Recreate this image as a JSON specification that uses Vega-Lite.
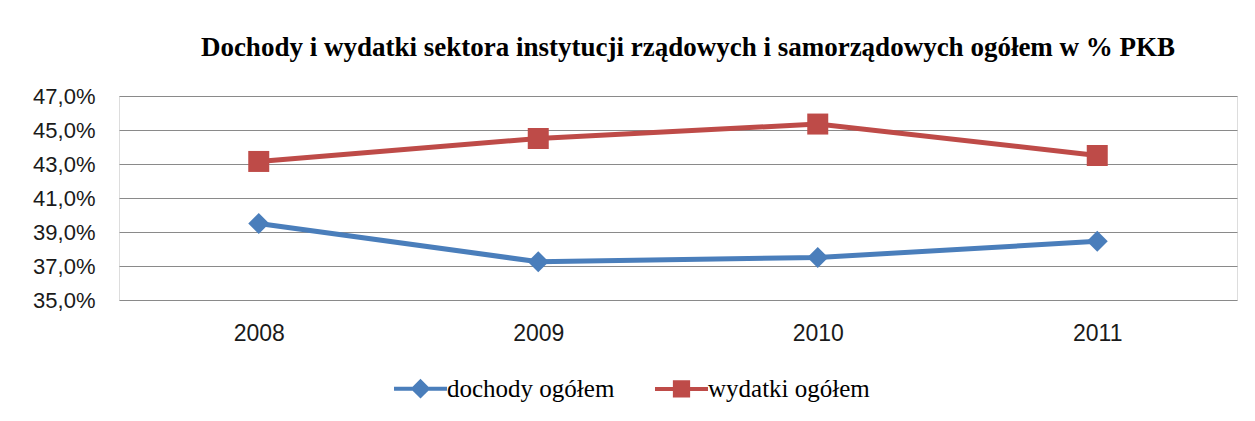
{
  "$schema": "https://vega.github.io/schema/vega-lite/v6.json",
  "width": 1118,
  "height": 204,
  "autosize": {"type": "none"},
  "padding": {"left": 119, "top": 96, "right": 18, "bottom": 121},
  "background": "white",
  "title": {
    "text": "Dochody i wydatki sektora instytucji rządowych i samorządowych ogółem w % PKB",
    "font": "Liberation Serif",
    "fontSize": 27,
    "fontWeight": "bold",
    "color": "black",
    "anchor": "middle",
    "dx": 10,
    "offset": 23
  },
  "data": {
    "values": [
      {"year": "2008", "series": "dochody ogółem", "value": 39.5},
      {"year": "2009", "series": "dochody ogółem", "value": 37.25},
      {"year": "2010", "series": "dochody ogółem", "value": 37.5},
      {"year": "2011", "series": "dochody ogółem", "value": 38.45},
      {"year": "2008", "series": "wydatki ogółem", "value": 43.15},
      {"year": "2009", "series": "wydatki ogółem", "value": 44.5},
      {"year": "2010", "series": "wydatki ogółem", "value": 45.35},
      {"year": "2011", "series": "wydatki ogółem", "value": 43.5}
    ]
  },
  "encoding": {
    "x": {
      "field": "year",
      "type": "ordinal",
      "scale": {"type": "point", "padding": 0.5},
      "axis": {
        "title": null,
        "labelAngle": 0,
        "domain": false,
        "ticks": false,
        "grid": false,
        "labelFont": "Liberation Sans",
        "labelFontSize": 23,
        "labelColor": "#1a1a1a",
        "labelPadding": 22
      }
    },
    "y": {
      "field": "value",
      "type": "quantitative",
      "scale": {"domain": [35, 47], "nice": false, "zero": false},
      "axis": {
        "title": null,
        "values": [35, 37, 39, 41, 43, 45, 47],
        "labelExpr": "replace(format(datum.value, '.1f'), '.', ',') + '%'",
        "domain": false,
        "ticks": false,
        "grid": true,
        "gridColor": "#8a8a8a",
        "gridWidth": 1.2,
        "labelFont": "Liberation Sans",
        "labelFontSize": 22,
        "labelColor": "#1a1a1a",
        "labelPadding": 24
      }
    }
  },
  "layer": [
    {
      "mark": {"type": "line", "strokeWidth": 5},
      "encoding": {
        "color": {
          "field": "series",
          "type": "nominal",
          "scale": {"domain": ["dochody ogółem", "wydatki ogółem"], "range": ["#4A7EBB", "#BE4B48"]},
          "legend": null
        }
      }
    },
    {
      "mark": {"type": "point", "filled": true, "size": 441, "opacity": 1, "strokeWidth": 0},
      "encoding": {
        "color": {
          "field": "series",
          "type": "nominal",
          "legend": null
        },
        "shape": {
          "field": "series",
          "type": "nominal",
          "scale": {"domain": ["dochody ogółem", "wydatki ogółem"], "range": ["diamond", "square"]},
          "legend": null
        }
      }
    },
    {
      "mark": {"type": "point", "filled": true, "size": 312, "opacity": 0, "strokeWidth": 4},
      "encoding": {
        "fill": {
          "field": "series",
          "type": "nominal",
          "scale": {"domain": ["dochody ogółem", "wydatki ogółem"], "range": ["#4A7EBB", "#BE4B48"]},
          "legend": {
            "title": null, "orient": "none", "legendX": 289, "legendY": 280,
            "direction": "horizontal", "columns": 2, "padding": 0, "columnPadding": 32,
            "symbolSize": 312, "symbolStrokeWidth": 4, "symbolOpacity": 1, "labelOffset": 14,
            "labelFont": "Liberation Serif", "labelFontSize": 25, "labelColor": "black", "labelLimit": 400
          }
        },
        "stroke": {
          "field": "series",
          "type": "nominal",
          "scale": {"domain": ["dochody ogółem", "wydatki ogółem"], "range": ["#4A7EBB", "#BE4B48"]},
          "legend": {
            "title": null, "orient": "none", "legendX": 289, "legendY": 280,
            "direction": "horizontal", "columns": 2, "padding": 0, "columnPadding": 32,
            "symbolSize": 312, "symbolStrokeWidth": 4, "symbolOpacity": 1, "labelOffset": 14,
            "labelFont": "Liberation Serif", "labelFontSize": 25, "labelColor": "black", "labelLimit": 400
          }
        },
        "shape": {
          "field": "series",
          "type": "nominal",
          "scale": {
            "domain": ["dochody ogółem", "wydatki ogółem"],
            "range": ["M-3,0H3M0,-0.8L0.8,0L0,0.8L-0.8,0Z", "M-3,0H3M-0.75,-0.75H0.75V0.75H-0.75Z"]
          },
          "legend": {
            "title": null, "orient": "none", "legendX": 289, "legendY": 280,
            "direction": "horizontal", "columns": 2, "padding": 0, "columnPadding": 32,
            "symbolSize": 312, "symbolStrokeWidth": 4, "symbolOpacity": 1, "labelOffset": 14,
            "labelFont": "Liberation Serif", "labelFontSize": 25, "labelColor": "black", "labelLimit": 400
          }
        }
      }
    }
  ],
  "resolve": {
    "scale": {"shape": "independent"},
    "legend": {"color": "independent", "shape": "independent", "fill": "independent", "stroke": "independent"}
  }
}
